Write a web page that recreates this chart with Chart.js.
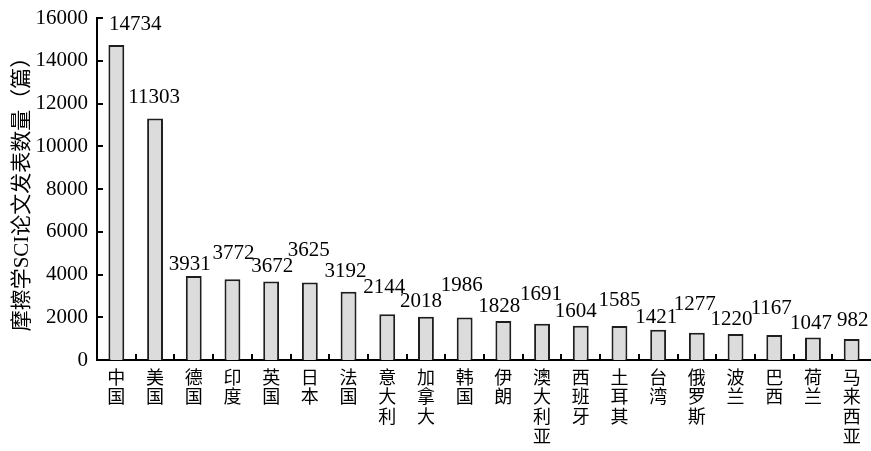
<!DOCTYPE html>
<html>
<head>
<meta charset="utf-8">
<script src="https://cdn.jsdelivr.net/npm/chart.js@4/dist/chart.umd.min.js"></script>
<style>
  html, body { margin: 0; padding: 0; background: #fff; }
  #wrap { width: 871px; height: 451px; }
</style>
</head>
<body>
<div id="wrap"><canvas id="c" width="871" height="451"></canvas></div>
<script>
// Countries / regions and their number of tribology SCI papers
const countries = ['中国', '美国', '德国', '印度', '英国', '日本', '法国', '意大利', '加拿大', '韩国',
                   '伊朗', '澳大利亚', '西班牙', '土耳其', '台湾', '俄罗斯', '波兰', '巴西', '荷兰', '马来西亚'];
const paperCounts = [14734, 11303, 3931, 3772, 3672, 3625, 3192, 2144, 2018, 1986,
                     1828, 1691, 1604, 1585, 1421, 1277, 1220, 1167, 1047, 982];
const yTickValues = [0, 2000, 4000, 6000, 8000, 10000, 12000, 14000, 16000];
const yAxisTitle = '摩擦学SCI论文发表数量（篇）';

const SERIF = "'Liberation Serif', 'Times New Roman', 'Noto Sans CJK SC', serif";

// Short tick marks drawn on the inner side of both axes
const innerTicks = {
  id: 'innerTicks',
  afterDatasetsDraw(chart, args, opts) {
    const { ctx, scales: { x, y } } = chart;
    ctx.save();
    ctx.strokeStyle = '#000';
    ctx.lineWidth = 2;
    y.ticks.forEach(t => {
      if (t.value === 0) return;
      const py = Math.round(y.getPixelForValue(t.value));
      ctx.beginPath();
      ctx.moveTo(y.right - 1, py);
      ctx.lineTo(y.right + opts.len, py);
      ctx.stroke();
    });
    for (let i = 1; i < x.ticks.length; i++) {
      const px = Math.round((x.getPixelForTick(i - 1) + x.getPixelForTick(i)) / 2);
      ctx.beginPath();
      ctx.moveTo(px, x.top);
      ctx.lineTo(px, x.top - opts.len);
      ctx.stroke();
    }
    ctx.restore();
  }
};

// Value printed above each bar, nudged so neighbouring numbers don't collide
const valueLabels = {
  id: 'valueLabels',
  afterDatasetsDraw(chart, args, opts) {
    const { ctx } = chart;
    const meta = chart.getDatasetMeta(0);
    const values = chart.data.datasets[0].data;
    ctx.save();
    ctx.font = opts.font;
    ctx.fillStyle = '#000';
    ctx.textAlign = 'center';
    ctx.textBaseline = 'middle';
    meta.data.forEach((bar, i) => {
      const [dx, lift] = opts.shift[i];
      ctx.fillText(String(values[i]), bar.x + dx, bar.y - lift);
    });
    ctx.restore();
  }
};

new Chart(document.getElementById('c'), {
  type: 'bar',
  data: {
    labels: countries,
    datasets: [{
      data: paperCounts,
      backgroundColor: '#dcdcdc',
      borderColor: '#1e1e1e',
      borderWidth: 2,
      borderSkipped: 'bottom',
      categoryPercentage: 1,
      barPercentage: 0.41
    }]
  },
  options: {
    responsive: false,
    animation: false,
    layout: { padding: { top: 18, right: 0, bottom: 0, left: 0 } },
    plugins: {
      legend: { display: false },
      tooltip: { enabled: false },
      innerTicks: { len: 6 },
      valueLabels: {
        font: "21px " + SERIF,
        shift: [[19, 21], [-1, 21], [-4, 11], [1, 26], [1, 15], [-1, 32], [-3, 20], [-3, 27], [-5, 15], [-3, 32],
                [-4, 14], [-1, 29], [-5, 14], [0, 26], [-2, 12], [-2, 28], [-4, 14], [-3, 27], [-2, 14], [1, 19]]
      }
    },
    scales: {
      x: {
        offset: true,
        grid: { display: false, drawTicks: false },
        border: { display: true, color: '#000', width: 2 },
        ticks: {
          autoSkip: false,
          maxRotation: 0,
          minRotation: 0,
          padding: 9,
          color: '#000',
          font: { family: SERIF, size: 18, lineHeight: 1.1 },
          callback(value) { return Array.from(this.getLabelForValue(value)); }
        },
        afterFit(scale) {
          scale.height = 91;
          scale.paddingLeft = 0;
          scale.paddingRight = 0;
        }
      },
      y: {
        min: 0,
        max: 16000,
        grid: { display: false, drawTicks: false },
        border: { display: true, color: '#000', width: 2 },
        afterBuildTicks(scale) { scale.ticks = yTickValues.map(v => ({ value: v })); },
        ticks: {
          padding: 9,
          color: '#000',
          font: { family: SERIF, size: 21 },
          callback(v) { return String(v); }
        },
        title: {
          display: true,
          text: yAxisTitle,
          color: '#000',
          font: { family: SERIF, size: 21, lineHeight: 1.2 },
          padding: { top: 10, bottom: 0 }
        },
        afterFit(scale) {
          scale.width = 97;
          scale.paddingTop = 0;
          scale.paddingBottom = 0;
        }
      }
    }
  },
  plugins: [innerTicks, valueLabels]
});
</script>
</body>
</html>
